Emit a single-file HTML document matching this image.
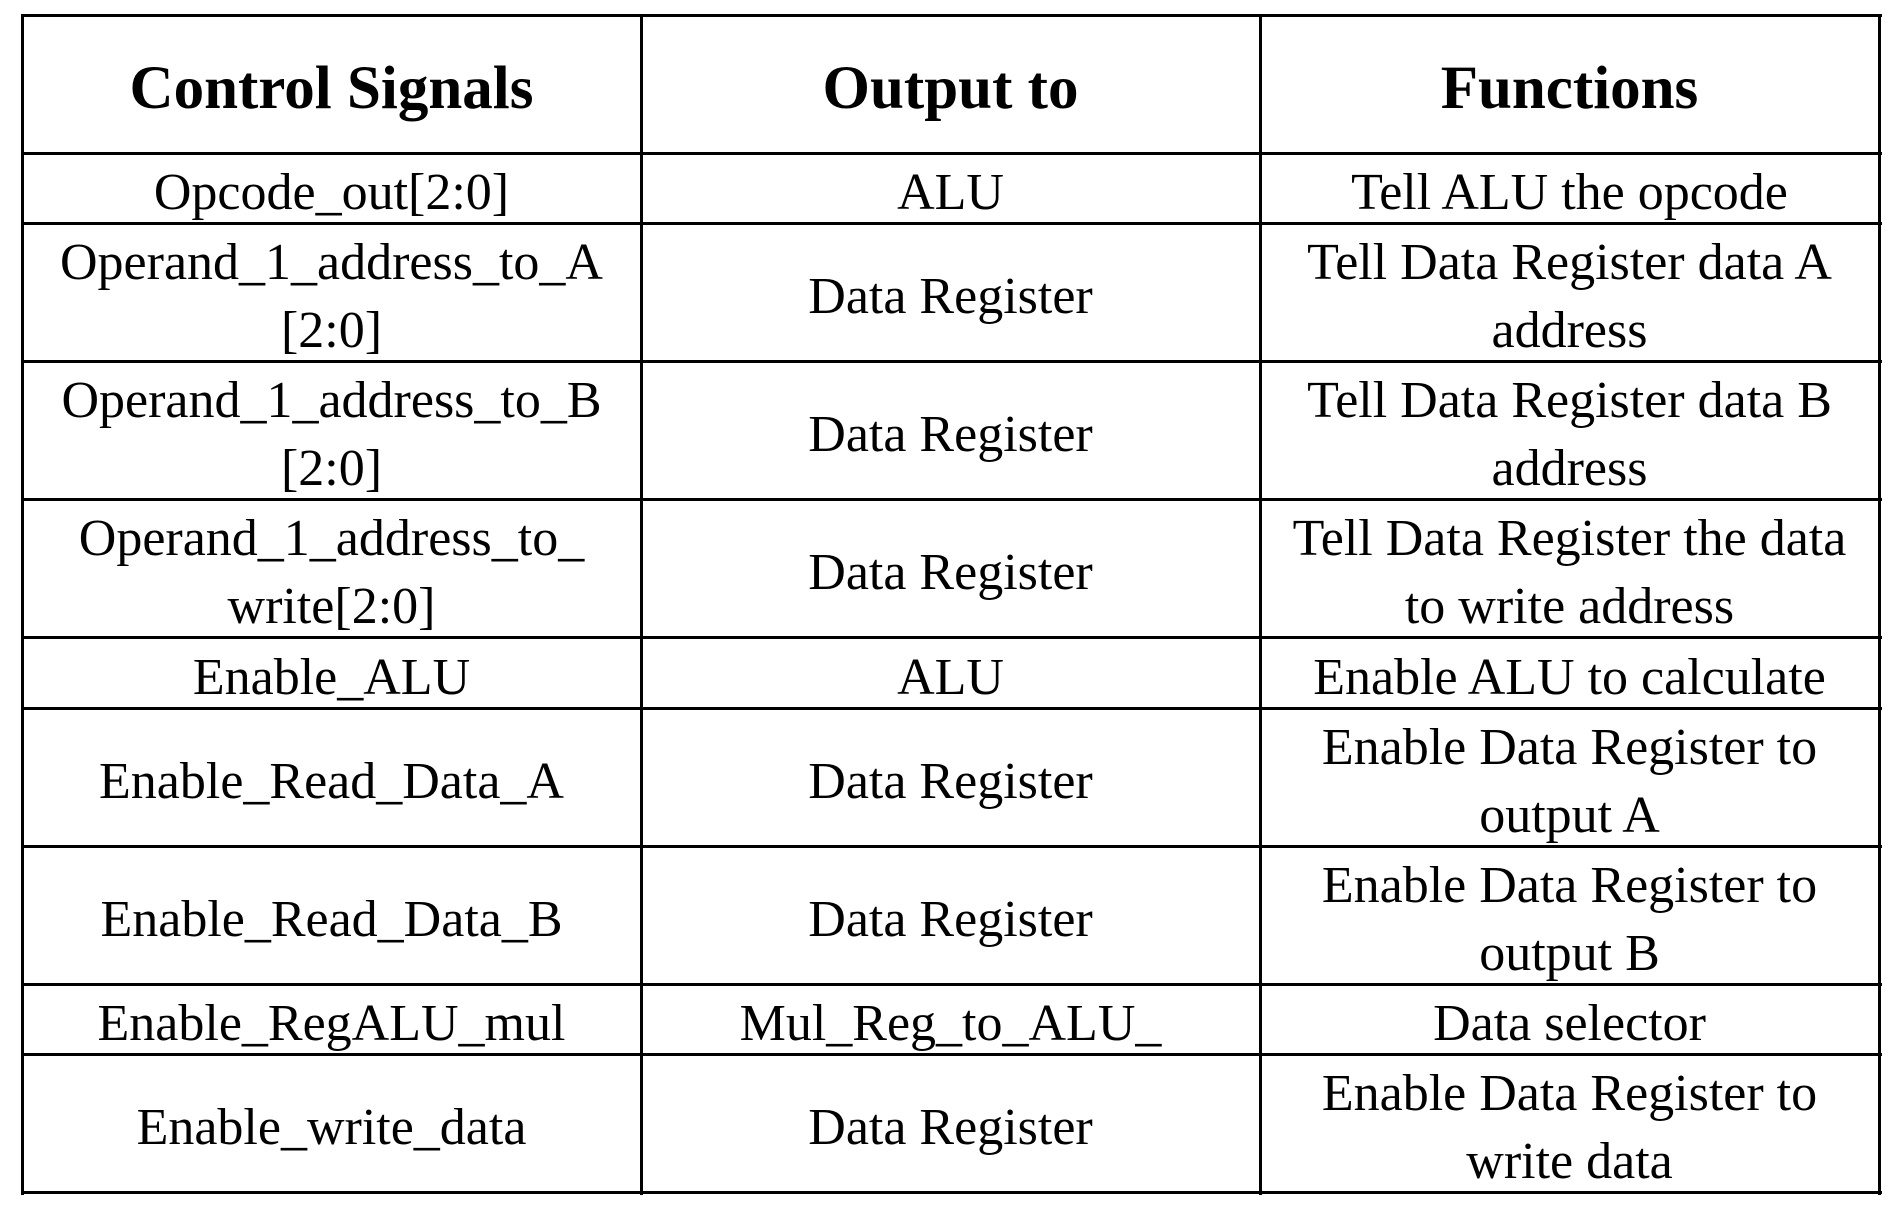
<!DOCTYPE html>
<html><head><meta charset="utf-8"><style>
html,body{margin:0;padding:0;background:#fff;width:1900px;height:1206px;overflow:hidden;position:relative}
.h{position:absolute;left:21px;width:1861px;height:3px;background:#000}
.v{position:absolute;top:14px;height:1181px;width:3px;background:#000}
.c{position:absolute;display:flex;align-items:center;justify-content:center;text-align:center;font-family:"Liberation Serif",serif;font-size:52px;line-height:68px;white-space:nowrap;color:#000;width:619px}
.b{font-weight:bold;font-size:61px}
</style></head><body>
<div class="h" style="top:14px"></div>
<div class="h" style="top:152px"></div>
<div class="h" style="top:222px"></div>
<div class="h" style="top:360px"></div>
<div class="h" style="top:498px"></div>
<div class="h" style="top:636px"></div>
<div class="h" style="top:707px"></div>
<div class="h" style="top:845px"></div>
<div class="h" style="top:983px"></div>
<div class="h" style="top:1053px"></div>
<div class="h" style="top:1191px"></div>
<div class="v" style="left:21px"></div>
<div class="v" style="left:640px"></div>
<div class="v" style="left:1259px"></div>
<div class="v" style="left:1878px"></div>

<div id="rows"></div>
<!-- header -->
<div class="c b" style="left:22px;top:20px;height:138px">Control Signals</div>
<div class="c b" style="left:641px;top:20px;height:138px">Output to</div>
<div class="c b" style="left:1260px;top:20px;height:138px">Functions</div>

<div class="c" style="left:22px;top:158px;height:70px">Opcode_out[2:0]</div>
<div class="c" style="left:641px;top:158px;height:70px">ALU</div>
<div class="c" style="left:1260px;top:158px;height:70px">Tell ALU the opcode</div>

<div class="c" style="left:22px;top:228px;height:138px">Operand_1_address_to_A<br>[2:0]</div>
<div class="c" style="left:641px;top:228px;height:138px">Data Register</div>
<div class="c" style="left:1260px;top:228px;height:138px">Tell Data Register data A<br>address</div>

<div class="c" style="left:22px;top:366px;height:138px">Operand_1_address_to_B<br>[2:0]</div>
<div class="c" style="left:641px;top:366px;height:138px">Data Register</div>
<div class="c" style="left:1260px;top:366px;height:138px">Tell Data Register data B<br>address</div>

<div class="c" style="left:22px;top:504px;height:138px">Operand_1_address_to_<br>write[2:0]</div>
<div class="c" style="left:641px;top:504px;height:138px">Data Register</div>
<div class="c" style="left:1260px;top:504px;height:138px">Tell Data Register the data<br>to write address</div>

<div class="c" style="left:22px;top:642px;height:71px">Enable_ALU</div>
<div class="c" style="left:641px;top:642px;height:71px">ALU</div>
<div class="c" style="left:1260px;top:642px;height:71px">Enable ALU to calculate</div>

<div class="c" style="left:22px;top:713px;height:138px">Enable_Read_Data_A</div>
<div class="c" style="left:641px;top:713px;height:138px">Data Register</div>
<div class="c" style="left:1260px;top:713px;height:138px">Enable Data Register to<br>output A</div>

<div class="c" style="left:22px;top:851px;height:138px">Enable_Read_Data_B</div>
<div class="c" style="left:641px;top:851px;height:138px">Data Register</div>
<div class="c" style="left:1260px;top:851px;height:138px">Enable Data Register to<br>output B</div>

<div class="c" style="left:22px;top:989px;height:70px">Enable_RegALU_mul</div>
<div class="c" style="left:641px;top:989px;height:70px">Mul_Reg_to_ALU_</div>
<div class="c" style="left:1260px;top:989px;height:70px">Data selector</div>

<div class="c" style="left:22px;top:1059px;height:138px">Enable_write_data</div>
<div class="c" style="left:641px;top:1059px;height:138px">Data Register</div>
<div class="c" style="left:1260px;top:1059px;height:138px">Enable Data Register to<br>write data</div>
</body></html>
